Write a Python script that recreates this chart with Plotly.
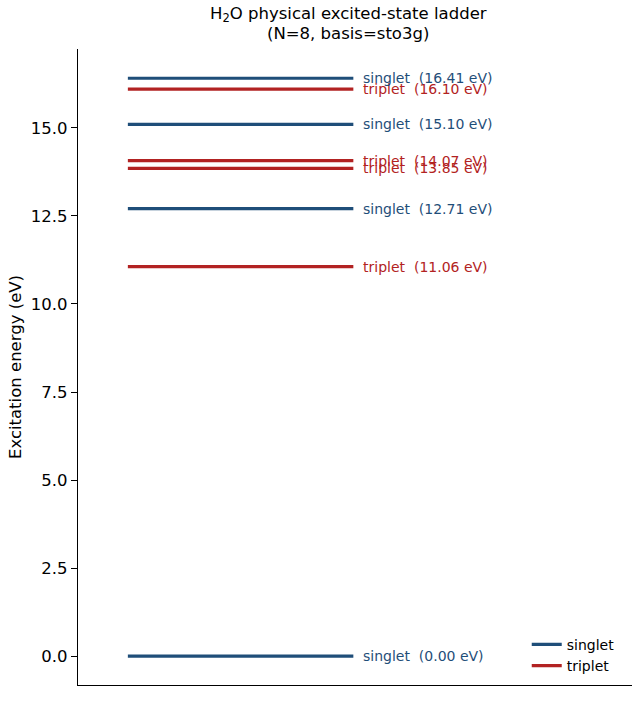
import plotly.graph_objects as go

# Data
state_kinds = ["singlet", "triplet", "singlet", "triplet", "triplet", "singlet", "triplet", "singlet"]
energies_ev = [0.00, 11.06, 12.71, 13.85, 14.07, 15.10, 16.10, 16.41]
y_ticks = [0.0, 2.5, 5.0, 7.5, 10.0, 12.5, 15.0]
title_lines = ["H<sub>2</sub>O physical excited-state ladder", "(N=8, basis=sto3g)"]

colors = {"singlet": "#1f4e79", "triplet": "#b22222"}
X0, X1 = 0.09, 0.497
FONT = "DejaVu Sans"

fig = go.Figure()
shown = set()
for kind, e in zip(state_kinds, energies_ev):
    fig.add_trace(go.Scatter(
        x=[X0, X1], y=[e, e], mode="lines",
        line=dict(color=colors[kind], width=3.2),
        name=kind, legendgroup=kind,
        showlegend=kind not in shown, hoverinfo="skip",
    ))
    shown.add(kind)
    fig.add_annotation(
        x=X1, y=e, xref="x", yref="y", xanchor="left", yanchor="middle",
        xshift=8, text=f"{kind}  ({e:.2f} eV)", showarrow=False,
        font=dict(color=colors[kind], size=14, family=FONT),
    )

# Title as two annotations (tight matplotlib-like line spacing)
for txt, yp in zip(title_lines, [1.0535, 1.0245]):
    fig.add_annotation(
        x=0.488, y=yp, xref="paper", yref="paper", xanchor="center", yanchor="middle",
        text=txt, showarrow=False, font=dict(size=16.5, family=FONT, color="black"),
    )

fig.update_layout(
    width=634, height=726,
    margin=dict(l=78, r=2, t=49, b=41),
    paper_bgcolor="white", plot_bgcolor="white",
    font=dict(family=FONT, color="black"),
    xaxis=dict(range=[0, 1], showgrid=False, zeroline=False, showticklabels=False,
               ticks="", showline=True, linecolor="black", linewidth=1.2),
    yaxis=dict(range=[-0.82, 17.24], showgrid=False, zeroline=False,
               tickvals=y_ticks, ticktext=[f"{v:.1f}" for v in y_ticks],
               ticks="outside", ticklen=6, tickwidth=1, tickcolor="black",
               ticklabelstandoff=0,
               showline=True, linecolor="black", linewidth=1.2,
               tickfont=dict(size=16.5),
               title=dict(text="Excitation energy (eV)", font=dict(size=16.5), standoff=5)),
    legend=dict(x=0.81, y=0.005, xanchor="left", yanchor="bottom",
                bgcolor="rgba(0,0,0,0)", font=dict(size=14), itemwidth=30,
                tracegroupgap=0),
)

fig.write_html("out.html")
